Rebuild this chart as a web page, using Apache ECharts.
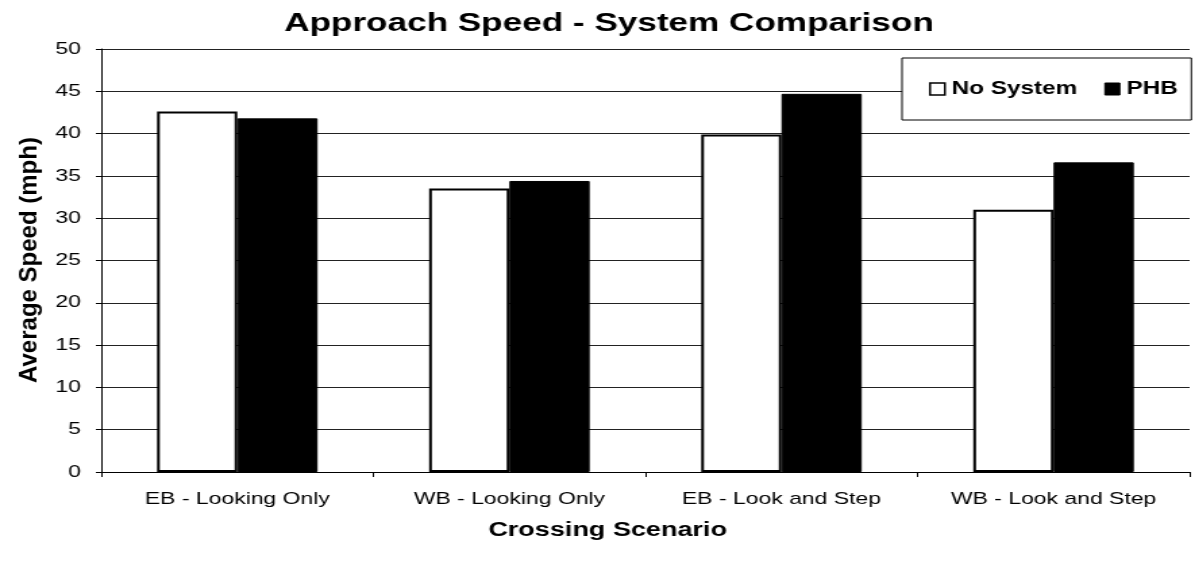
<!DOCTYPE html>
<html>
<head>
<meta charset="utf-8">
<script src="https://cdn.jsdelivr.net/npm/echarts@6/dist/echarts.min.js"></script>
<style>
  html, body { margin: 0; padding: 0; background: #fff; overflow: hidden; }
  /* the reference picture is stretched sideways, so draw narrower and widen */
  #chart { width: 885px; height: 561px; transform: scaleX(1.3503); transform-origin: left top; }
</style>
</head>
<body>
<div id="chart"></div>
<script>
// data
const categories = ["EB - Looking Only", "WB - Looking Only", "EB - Look and Step", "WB - Look and Step"];
const noSystem = [42.6, 33.5, 39.9, 31.0];
const phb = [41.8, 34.4, 44.7, 36.6];

const font = "Liberation Sans, Arial, sans-serif";
const stretch = 1.3503;

const myChart = echarts.init(document.getElementById("chart"));

myChart.setOption({
    backgroundColor: "#fff",
    animation: false,
    title: {
        text: "Approach Speed - System Comparison",
        left: 446, top: 6, textAlign: "center",
        textStyle: { fontFamily: font, fontSize: 26, fontWeight: "bold", color: "#000" }
    },
    legend: {
        left: 668, top: 58,
        padding: [22, 10, 22, 20],
        backgroundColor: "#fff",
        borderColor: "#000", borderWidth: 1,
        itemWidth: 11, itemHeight: 12, itemGap: 20,
        icon: "rect",
        textStyle: { fontFamily: font, fontSize: 18, fontWeight: "bold", color: "#000" },
        data: [
            { name: "No System", itemStyle: { color: "#fff", borderColor: "#000", borderWidth: 1.5 } },
            { name: "PHB", itemStyle: { color: "#000", borderColor: "#000", borderWidth: 1 } }
        ]
    },
    // y axis title drawn unstretched so it keeps normal letter shapes
    graphic: [{
        type: "text",
        x: 22, y: 260,
        rotation: Math.PI / 2,
        scaleY: 1 / stretch,
        style: {
            text: "Average Speed (mph)",
            font: "bold 24px " + font,
            fill: "#000",
            align: "center",
            verticalAlign: "middle"
        }
    }],
    grid: { left: 75, right: 4, top: 49, bottom: 89 },
    xAxis: {
        type: "category",
        data: categories,
        name: "Crossing Scenario",
        nameLocation: "middle",
        nameGap: 48,
        nameTextStyle: { fontFamily: font, fontSize: 20, fontWeight: "bold", color: "#000", padding: [0, 56, 0, 0] },
        axisLine: { lineStyle: { color: "#000", width: 1 } },
        axisTick: { show: true, length: 5, lineStyle: { color: "#000" } },
        axisLabel: { fontFamily: font, fontSize: 17, color: "#000", margin: 19 }
    },
    yAxis: {
        type: "value",
        min: 0, max: 50, interval: 5,
        axisLine: { show: true, lineStyle: { color: "#000", width: 1 } },
        axisTick: { show: true, length: 4, lineStyle: { color: "#000" } },
        axisLabel: { fontFamily: font, fontSize: 17, color: "#000", margin: 15 },
        splitLine: { lineStyle: { color: "#222", width: 1 } }
    },
    series: [
        {
            name: "No System", type: "bar", data: noSystem,
            barGap: "0%", barCategoryGap: "41%",
            itemStyle: { color: "#fff", borderColor: "#000", borderWidth: 2 }
        },
        {
            name: "PHB", type: "bar", data: phb,
            itemStyle: { color: "#000", borderColor: "#000", borderWidth: 1 }
        }
    ]
});
</script>
</body>
</html>
